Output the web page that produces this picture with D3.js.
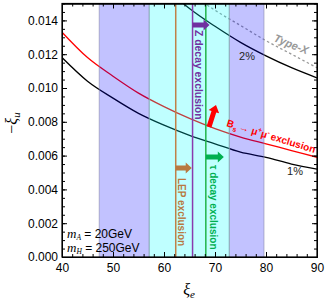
<!DOCTYPE html>
<html><head><meta charset="utf-8">
<script src="https://cdn.jsdelivr.net/npm/d3@7"></script>
<style>body{margin:0;background:#fff}svg{display:block}</style>
</head><body>
<script>
// ---- data ----
const xTicks = [40, 50, 60, 70, 80, 90];
const yTicks = [0, 0.002, 0.004, 0.006, 0.008, 0.010, 0.012, 0.014];
const yTickLabels = ["0.000","0.002","0.004","0.006","0.008","0.010","0.012","0.014"];
const curveX = [40, 45, 50, 55, 60, 65, 70, 75, 80, 85, 90];
const onePercent = [0.0118, 0.0104, 0.0094, 0.0085, 0.0078, 0.0072, 0.0067, 0.0062, 0.0059, 0.0055, 0.0052];
const bsExclusion = [0.0133, 0.0118, 0.0107, 0.0097, 0.0089, 0.0082, 0.0076, 0.0071, 0.0067, 0.0063, 0.0059];
const twoPercentX = [63, 65, 70, 75, 80, 85, 90];
const twoPercent = [0.0152, 0.0147, 0.01365, 0.0127, 0.0119, 0.0112, 0.0106];
const typeXX = [66, 68, 70, 75, 80, 85, 90];
const typeX = [0.0154, 0.0150, 0.0146, 0.0137, 0.0128, 0.0120, 0.0112];
const blueBands = [[47.3, 57.1], [72.8, 79.6]];
const cyanBand = [57.1, 72.8];
const lepLine = 62.3, zLine = 65.6, tauLine = 68.2;

const W = 326, H = 304;
const x = d3.scaleLinear([40, 90], [62, 317]);
const y = d3.scaleLinear([0, 0.015], [257, 3.5]);

const svg = d3.select("body").append("svg").attr("width", W).attr("height", H)
  .style("font-family", "'Liberation Sans', Arial, sans-serif");

svg.append("defs").append("clipPath").attr("id", "clip")
  .append("rect").attr("x", 62).attr("y", 3.5).attr("width", 255).attr("height", 253.5);
const plot = svg.append("g").attr("clip-path", "url(#clip)");

const line = d3.line().curve(d3.curveMonotoneX);
function drawCurve(xs, ys, color, dash) {
  plot.append("path")
    .attr("d", line(xs.map((v, i) => [x(v), y(ys[i])])))
    .attr("fill", "none").attr("stroke", color).attr("stroke-width", 1.3)
    .attr("stroke-dasharray", dash || null);
}
drawCurve(curveX, onePercent, "#000");
drawCurve(curveX, bsExclusion, "#ff0000");
drawCurve(twoPercentX, twoPercent, "#000");
drawCurve(typeXX, typeX, "#999", "2.5,2.5");

// bands on top, semi-transparent
blueBands.forEach(b => {
  plot.append("rect").attr("x", x(b[0])).attr("y", 0).attr("width", x(b[1]) - x(b[0])).attr("height", H)
    .attr("fill", "#0000ff").attr("fill-opacity", 0.24)
    .attr("stroke", "#8888aa").attr("stroke-opacity", 0.6).attr("stroke-width", 1);
});
plot.append("rect").attr("x", x(cyanBand[0])).attr("y", 0).attr("width", x(cyanBand[1]) - x(cyanBand[0])).attr("height", H)
  .attr("fill", "#00ffff").attr("fill-opacity", 0.25)
  .attr("stroke", "#88aaaa").attr("stroke-opacity", 0.6).attr("stroke-width", 1);

// vertical exclusion lines
[[lepLine, "#c08048"], [zLine, "#8a3aae"], [tauLine, "#22b44a"]].forEach(([v, c]) => {
  plot.append("line").attr("x1", x(v)).attr("x2", x(v)).attr("y1", 0).attr("y2", H)
    .attr("stroke", c).attr("stroke-width", 1.5);
});

// arrows
function arrow(x0, y0, x1, y1, color, w, hw, hl) {
  const dx = x1 - x0, dy = y1 - y0, L = Math.hypot(dx, dy);
  const ux = dx / L, uy = dy / L, px = -uy, py = ux;
  const bx = x1 - ux * hl, by = y1 - uy * hl;
  const pts = [
    [x0 + px * w / 2, y0 + py * w / 2], [bx + px * w / 2, by + py * w / 2], [bx + px * hw / 2, by + py * hw / 2],
    [x1, y1], [bx - px * hw / 2, by - py * hw / 2], [bx - px * w / 2, by - py * w / 2], [x0 - px * w / 2, y0 - py * w / 2]
  ];
  svg.append("path").attr("d", "M" + pts.map(p => p.join(",")).join("L") + "Z").attr("fill", color);
}
arrow(x(zLine), 25, x(zLine) + 17, 25, "#7030a0", 5, 11, 6);
arrow(x(lepLine), 168, x(lepLine) + 16, 168, "#b87840", 5, 11, 6);
arrow(x(tauLine), 157, x(tauLine) + 18, 157, "#00b050", 5, 11, 6);
arrow(209, 127, 216, 105, "#ff0000", 5, 11, 7);

// rotated vertical labels
function vlabel(cx, ytop, txt, color, size) {
  svg.append("text").attr("transform", `translate(${cx},${ytop}) rotate(90)`)
    .attr("dy", "0.35em").attr("fill", color).attr("font-weight", "bold")
    .attr("font-size", size).text(txt);
}
vlabel(198.5, 30, "Z decay exclusion", "#7030a0", 10.4);
vlabel(181.5, 178, "LEP exclusion", "#b87840", 10);
vlabel(213, 165, "τ decay exclusion", "#00b050", 10);

// Bs label
const bs = svg.append("text").attr("transform", "translate(226,126) rotate(17)")
  .attr("fill", "#ff0000").attr("font-weight", "bold").attr("font-size", 10);
bs.append("tspan").text("B");
bs.append("tspan").attr("font-size", 7).attr("dy", 3).text("s");
bs.append("tspan").attr("dy", -3).attr("dx", 2).text("→ μ");
bs.append("tspan").attr("font-size", 6.5).attr("dy", -4).text("+");
bs.append("tspan").attr("dy", 4).text("μ");
bs.append("tspan").attr("font-size", 6.5).attr("dy", -4).text("-");
bs.append("tspan").attr("dy", 4).attr("dx", 2).text("exclusion");

// curve labels
svg.append("text").attr("x", 247).attr("y", 60).attr("text-anchor", "middle").attr("font-size", 11).attr("fill", "#222").text("2%");
svg.append("text").attr("x", 295).attr("y", 175).attr("text-anchor", "middle").attr("font-size", 11).attr("fill", "#222").text("1%");
svg.append("text").attr("transform", "translate(273,41) rotate(22)").attr("font-size", 11)
  .attr("font-weight", "bold").attr("font-style", "italic").attr("fill", "#999").text("Type-X");

// mass labels
function massLabel(yb, sub, val) {
  const t = svg.append("text").attr("x", 67).attr("y", yb).attr("font-size", 12);
  t.append("tspan").attr("font-family", "'Liberation Serif', serif").attr("font-style", "italic").attr("font-size", 13).text("m");
  t.append("tspan").attr("font-family", "'Liberation Serif', serif").attr("font-style", "italic").attr("font-size", 7.5).attr("dy", 2).text(sub);
  t.append("tspan").attr("dy", -2).text(" = " + val);
}
massLabel(237.5, "A", "20GeV");
massLabel(252, "H", "250GeV");

// axes
const minorY = d3.range(0, 0.01501, 0.0005);
const minorX = d3.range(40, 90.01, 2);
function styleAxis(g) { g.selectAll("path,line").attr("stroke", "#000"); g.selectAll("text").attr("font-size", 12).attr("fill", "#000").attr("font-family", "'Liberation Sans', Arial, sans-serif"); }
svg.append("g").attr("transform", "translate(62,0)")
  .call(d3.axisLeft(y).tickValues(yTicks).tickFormat((d, i) => yTickLabels[i]).tickSizeInner(-5).tickSizeOuter(0).tickPadding(4)).call(styleAxis);
svg.append("g").attr("transform", "translate(62,0)")
  .call(d3.axisLeft(y).tickValues(minorY).tickFormat("").tickSizeInner(-3).tickSizeOuter(0)).call(styleAxis);
svg.append("g").attr("transform", "translate(317,0)")
  .call(d3.axisRight(y).tickValues(yTicks).tickFormat("").tickSizeInner(-5).tickSizeOuter(0)).call(styleAxis);
svg.append("g").attr("transform", "translate(317,0)")
  .call(d3.axisRight(y).tickValues(minorY).tickFormat("").tickSizeInner(-3).tickSizeOuter(0)).call(styleAxis);
svg.append("g").attr("transform", "translate(0,257)")
  .call(d3.axisBottom(x).tickValues(xTicks).tickFormat(d3.format("d")).tickSizeInner(-5).tickSizeOuter(0).tickPadding(6)).call(styleAxis);
svg.append("g").attr("transform", "translate(0,257)")
  .call(d3.axisBottom(x).tickValues(minorX).tickFormat("").tickSizeInner(-3).tickSizeOuter(0)).call(styleAxis);
svg.append("g").attr("transform", "translate(0,3.5)")
  .call(d3.axisTop(x).tickValues(xTicks).tickFormat("").tickSizeInner(-5).tickSizeOuter(0)).call(styleAxis);
svg.append("g").attr("transform", "translate(0,3.5)")
  .call(d3.axisTop(x).tickValues(minorX).tickFormat("").tickSizeInner(-3).tickSizeOuter(0)).call(styleAxis);
svg.append("rect").attr("x", 62).attr("y", 3.5).attr("width", 255).attr("height", 253.5)
  .attr("fill", "none").attr("stroke", "#000").attr("stroke-width", 1.2);

// axis titles
const yl = svg.append("text").attr("transform", "translate(17,123) rotate(-90)").attr("text-anchor", "middle")
  .attr("font-family", "'Liberation Serif', serif").attr("font-size", 16);
yl.append("tspan").text("−");
yl.append("tspan").attr("font-style", "italic").text("ξ");
yl.append("tspan").attr("font-style", "italic").attr("font-size", 11).attr("dy", 3).text("u");
const xl = svg.append("text").attr("x", 189).attr("y", 295).attr("text-anchor", "middle")
  .attr("font-family", "'Liberation Serif', serif").attr("font-size", 16);
xl.append("tspan").attr("font-style", "italic").text("ξ");
xl.append("tspan").attr("font-style", "italic").attr("font-size", 11).attr("dy", 3).text("e");
</script>
</body></html>
